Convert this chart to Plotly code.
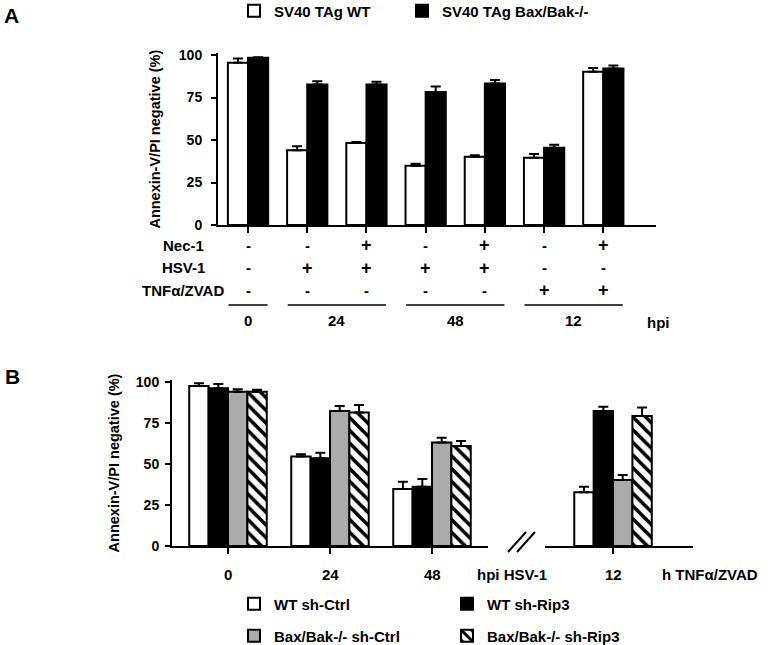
import plotly.graph_objects as go

W, H = 775, 645
FONT = "Arial, Liberation Sans, DejaVu Sans"

# ---------------- Panel A data ----------------
a_series = ["SV40 TAg WT", "SV40 TAg Bax/Bak-/-"]
a_wt = [95.5, 44, 48.3, 34.8, 40.2, 39.6, 90.2]
a_wt_err = [2.5, 2.3, 0.5, 1.2, 0.8, 2.2, 2.2]
a_bax = [98.4, 82.6, 82.6, 78.2, 83.2, 45.4, 92.0]
a_bax_err = [0.3, 2.0, 1.7, 3.2, 2.1, 1.8, 1.8]
nec1 = ["-", "-", "+", "-", "+", "-", "+"]
hsv1 = ["-", "+", "+", "+", "+", "-", "-"]
tnf = ["-", "-", "-", "-", "-", "+", "+"]
row_labels = ["Nec-1", "HSV-1", "TNFα/ZVAD"]
hpi_labels = ["0", "24", "48", "12"]
hpi_members = [[0], [1, 2], [3, 4], [5, 6]]

# ---------------- Panel B data ----------------
b_groups = ["0", "24", "48", "12"]
b_series = ["WT sh-Ctrl", "WT sh-Rip3", "Bax/Bak-/- sh-Ctrl", "Bax/Bak-/- sh-Rip3"]
b_vals = [
    [97.4, 54.4, 34.7, 32.7],
    [96.0, 53.4, 36.1, 82.2],
    [93.9, 82.2, 62.9, 40.2],
    [93.9, 81.2, 60.9, 79.1],
]
b_errs = [
    [1.6, 1.4, 4.4, 3.4],
    [2.6, 3.4, 4.7, 2.6],
    [1.4, 3.0, 3.0, 3.0],
    [1.1, 4.6, 3.0, 5.1],
]


def px_x(p):
    return p / W


def px_y(p):
    return 1 - p / H


fig = go.Figure()

# ---------------- Panel A bars ----------------
bw_a = 0.34
posA = list(range(len(a_wt)))
fig.add_trace(go.Bar(
    x=posA, y=a_wt, name=a_series[0], width=bw_a, offset=-bw_a,
    marker=dict(color="white", line=dict(color="black", width=2)),
    error_y=dict(type="data", symmetric=False, array=a_wt_err, arrayminus=[0] * 7,
                 color="black", thickness=2, width=5),
    xaxis="x", yaxis="y", legend="legend",
))
fig.add_trace(go.Bar(
    x=posA, y=a_bax, name=a_series[1], width=bw_a, offset=0,
    marker=dict(color="black", line=dict(color="black", width=2)),
    error_y=dict(type="data", symmetric=False, array=a_bax_err, arrayminus=[0] * 7,
                 color="black", thickness=2, width=5),
    xaxis="x", yaxis="y", legend="legend4",
))

# ---------------- Panel B bars ----------------
bw_b = 0.19
fills = [
    dict(color="white", line=dict(color="black", width=2)),
    dict(color="black", line=dict(color="black", width=2)),
    dict(color="#ababab", line=dict(color="black", width=2)),
    dict(color="white", line=dict(color="black", width=2),
         pattern=dict(shape="\\", fgcolor="black", bgcolor="white", size=9, solidity=0.4)),
]
for i, name in enumerate(b_series):
    off = -2 * bw_b + i * bw_b
    legend_name = "legend2" if i < 2 else "legend3"
    fig.add_trace(go.Bar(
        x=[0, 1, 2], y=b_vals[i][:3], name=name, width=bw_b, offset=off,
        marker=fills[i],
        error_y=dict(type="data", symmetric=False, array=b_errs[i][:3], arrayminus=[0] * 3,
                     color="black", thickness=2, width=5),
        xaxis="x2", yaxis="y2", legend=legend_name, legendgroup=name,
    ))
    fig.add_trace(go.Bar(
        x=[0], y=b_vals[i][3:], name=name, width=bw_b, offset=off,
        marker=fills[i], showlegend=False,
        error_y=dict(type="data", symmetric=False, array=b_errs[i][3:], arrayminus=[0],
                     color="black", thickness=2, width=5),
        xaxis="x3", yaxis="y3", legendgroup=name,
    ))

tickfont = dict(family=FONT, size=14, color="black", weight="bold")
titlefont = dict(family=FONT, size=14.5, color="black", weight="bold")
yaxis_common = dict(range=[0, 101], tickvals=[0, 25, 50, 75, 100], showline=True,
                    linecolor="black", linewidth=2, ticks="outside", ticklen=5,
                    tickwidth=2, tickcolor="black", showgrid=False, zeroline=False,
                    tickfont=tickfont, automargin=False)
xaxis_common = dict(showline=True, linecolor="black", linewidth=2, ticks="outside",
                    ticklen=6, tickwidth=2, tickcolor="black", showgrid=False,
                    zeroline=False, showticklabels=False, automargin=False)
legfont = dict(family=FONT, size=15, color="black", weight="bold")


def leg(x, y, ew=200):
    return dict(orientation="h", x=px_x(x), y=px_y(y), xanchor="left", yanchor="middle",
                entrywidth=ew, entrywidthmode="pixels", bgcolor="rgba(0,0,0,0)",
                font=legfont, traceorder="normal")


fig.update_layout(
    template="none",
    width=W, height=H, margin=dict(l=0, r=0, t=0, b=0, pad=0, autoexpand=False),
    paper_bgcolor="white", plot_bgcolor="rgba(0,0,0,0)",
    font=dict(family=FONT, size=15, color="black", weight="bold"),
    barmode="overlay",
    xaxis=dict(domain=[px_x(218), px_x(656)], range=[-0.507, 6.89],
               tickvals=posA, anchor="y", **xaxis_common),
    yaxis=dict(domain=[px_y(225), px_y(53.3)], anchor="x", ticklabelstandoff=6,
               title=dict(text="Annexin-V/PI negative (%)", standoff=15, font=titlefont),
               **yaxis_common),
    xaxis2=dict(domain=[px_x(172), px_x(488)], range=[-0.549, 2.549],
                tickvals=[0, 1, 2], anchor="y2", **xaxis_common),
    yaxis2=dict(domain=[px_y(546), px_y(380)], anchor="x2", ticklabelstandoff=3,
                title=dict(text="Annexin-V/PI negative (%)", standoff=13, font=titlefont),
                **yaxis_common),
    xaxis3=dict(domain=[px_x(545), px_x(693)], range=[-0.667, 0.784],
                tickvals=[0], anchor="y3", **xaxis_common),
    yaxis3=dict(domain=[px_y(546), px_y(380)], anchor="x3", range=[0, 101],
                visible=False),
    legend=leg(234, 11),
    legend4=leg(402, 11),
    legend2=leg(234, 604, 168),
    legend3=leg(234, 636, 168),
)

ann = []
bold = dict(family=FONT, size=15, color="black", weight="bold")
ann.append(dict(text="A", x=px_x(2), y=px_y(15), xref="paper", yref="paper",
                xanchor="left", yanchor="middle", showarrow=False,
                font=dict(family=FONT, size=21, color="black", weight="bold")))
ann.append(dict(text="B", x=px_x(3), y=px_y(376), xref="paper", yref="paper",
                xanchor="left", yanchor="middle", showarrow=False,
                font=dict(family=FONT, size=21, color="black", weight="bold")))

# Panel A treatment table
rows = [nec1, hsv1, tnf]
row_y = [245, 268, 290]
for lbl, vals, yy in zip(row_labels, rows, row_y):
    ann.append(dict(text=lbl, x=px_x(183), y=px_y(yy), xref="paper", yref="paper",
                    xanchor="center", yanchor="middle", showarrow=False, font=bold))
    for i, v in enumerate(vals):
        ann.append(dict(text=v, x=posA[i], y=px_y(yy), xref="x", yref="paper",
                        xanchor="center", yanchor="middle", showarrow=False,
                        font=dict(family=FONT, size=18 if v == "+" else 15,
                                  color="black", weight="bold")))

shapes = []
for lbl, mem in zip(hpi_labels, hpi_members):
    x0 = posA[mem[0]] - 0.33
    x1 = posA[mem[-1]] + 0.33
    shapes.append(dict(type="line", xref="x", yref="paper", x0=x0, x1=x1,
                       y0=px_y(305), y1=px_y(305), line=dict(color="black", width=1.5)))
    ann.append(dict(text=lbl, x=(posA[mem[0]] + posA[mem[-1]]) / 2, y=px_y(321),
                    xref="x", yref="paper", xanchor="center", yanchor="middle",
                    showarrow=False, font=bold))
ann.append(dict(text="hpi", x=px_x(645), y=px_y(322), xref="paper", yref="paper",
                xanchor="left", yanchor="middle", showarrow=False, font=bold))

# Panel B x labels
for i, g in enumerate(b_groups[:3]):
    ann.append(dict(text=g, x=i, y=px_y(574), xref="x2", yref="paper",
                    xanchor="center", yanchor="middle", showarrow=False, font=bold))
ann.append(dict(text=b_groups[3], x=0, y=px_y(574), xref="x3", yref="paper",
                xanchor="center", yanchor="middle", showarrow=False, font=bold))
ann.append(dict(text="hpi HSV-1", x=px_x(475), y=px_y(574), xref="paper", yref="paper",
                xanchor="left", yanchor="middle", showarrow=False, font=bold))
ann.append(dict(text="h TNFα/ZVAD", x=px_x(660), y=px_y(574), xref="paper", yref="paper",
                xanchor="left", yanchor="middle", showarrow=False, font=bold))

# axis break marks
for dx in (0, 9):
    shapes.append(dict(type="line", xref="paper", yref="paper",
                       x0=px_x(508 + dx), y0=px_y(552), x1=px_x(526 + dx), y1=px_y(532),
                       line=dict(color="black", width=2)))

fig.update_layout(annotations=ann, shapes=shapes)
fig.write_html("out.html", config={"displayModeBar": False},
               post_script="document.body.style.margin='0';document.body.style.overflow='hidden';")
